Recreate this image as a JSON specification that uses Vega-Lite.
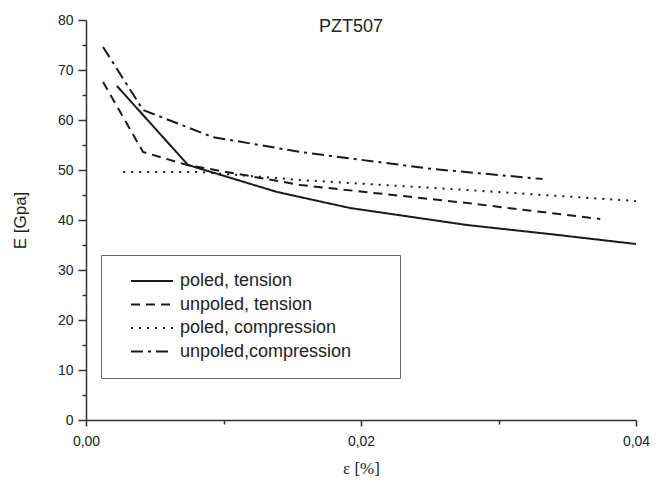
{
  "$schema": "https://vega.github.io/schema/vega-lite/v6.json",
  "width": 550,
  "height": 400,
  "autosize": {"type": "none"},
  "padding": {"left": 86, "top": 20, "right": 25, "bottom": 62},
  "background": "white",
  "title": {"text": "PZT507", "frame": "group", "anchor": "middle", "orient": "top", "offset": -17, "dy": 20, "baseline": "alphabetic", "dx": -10, "fontSize": 18, "fontWeight": "normal", "font": "Liberation Sans", "color": "#222"},
  "config": {"view": {"stroke": null}, "font": "Liberation Sans"},
  "data": {"values": [
    {"series": "poled, tension", "strain": 0.00225, "E": 66.8},
    {"series": "poled, tension", "strain": 0.00742, "E": 51.0},
    {"series": "poled, tension", "strain": 0.0139, "E": 45.6},
    {"series": "poled, tension", "strain": 0.0192, "E": 42.4},
    {"series": "poled, tension", "strain": 0.0277, "E": 39.0},
    {"series": "poled, tension", "strain": 0.0337, "E": 37.2},
    {"series": "poled, tension", "strain": 0.0400, "E": 35.2},
    {"series": "unpoled, tension", "strain": 0.00124, "E": 67.6},
    {"series": "unpoled, tension", "strain": 0.00415, "E": 53.6},
    {"series": "unpoled, tension", "strain": 0.00735, "E": 51.0},
    {"series": "unpoled, tension", "strain": 0.0156, "E": 47.0},
    {"series": "unpoled, tension", "strain": 0.0277, "E": 43.4},
    {"series": "unpoled, tension", "strain": 0.0374, "E": 40.2},
    {"series": "poled, compression", "strain": 0.0027, "E": 49.6},
    {"series": "poled, compression", "strain": 0.0083, "E": 49.6},
    {"series": "poled, compression", "strain": 0.0156, "E": 48.0},
    {"series": "poled, compression", "strain": 0.0277, "E": 46.0},
    {"series": "poled, compression", "strain": 0.0400, "E": 43.8},
    {"series": "unpoled,compression", "strain": 0.00124, "E": 74.6},
    {"series": "unpoled,compression", "strain": 0.00415, "E": 62.0},
    {"series": "unpoled,compression", "strain": 0.0092, "E": 56.6},
    {"series": "unpoled,compression", "strain": 0.0156, "E": 53.6},
    {"series": "unpoled,compression", "strain": 0.0252, "E": 50.2},
    {"series": "unpoled,compression", "strain": 0.0332, "E": 48.2}
  ]},
  "mark": {"type": "line", "strokeWidth": 2, "color": "#1a1a1a", "strokeCap": "butt"},
  "encoding": {
    "x": {
      "field": "strain", "type": "quantitative",
      "scale": {"domain": [0, 0.04], "nice": false, "zero": false},
      "axis": {
        "title": "ε [%]", "titleFont": "Liberation Serif", "titleFontSize": 17, "titleFontWeight": "normal", "titleColor": "#222", "titlePadding": 12,
        "values": [0, 0.01, 0.02, 0.03, 0.04],
        "labelExpr": "round(datum.value*100) % 2 === 0 ? replace(format(datum.value, '.2f'), '.', ',') : ''",
        "tickSize": {"condition": {"test": "round(datum.value*100) % 2 === 0", "value": 6}, "value": 4},
        "grid": false, "domainColor": "#333", "domainWidth": 1.5, "tickColor": "#333", "tickWidth": 1.5,
        "labelFontSize": 14, "labelPadding": 8, "labelColor": "#222", "labelFont": "Liberation Sans", "labelFlush": false, "labelOverlap": false
      }
    },
    "y": {
      "field": "E", "type": "quantitative",
      "scale": {"domain": [0, 80], "nice": false},
      "axis": {
        "title": "E [Gpa]", "titleFont": "Liberation Sans", "titleFontSize": 17, "titleFontWeight": "normal", "titleColor": "#222", "titlePadding": 28,
        "values": [0, 5, 10, 15, 20, 25, 30, 35, 40, 45, 50, 55, 60, 65, 70, 75, 80],
        "labelExpr": "datum.value % 10 === 0 ? datum.label : ''",
        "tickSize": {"condition": {"test": "datum.value % 10 === 0", "value": 8}, "value": 4},
        "grid": false, "domainColor": "#333", "domainWidth": 1.5, "tickColor": "#333", "tickWidth": 1.5,
        "labelFontSize": 14, "labelPadding": 5, "labelColor": "#222", "labelFont": "Liberation Sans", "labelOverlap": false
      }
    },
    "strokeDash": {
      "field": "series", "type": "nominal",
      "scale": {"domain": ["poled, tension", "unpoled, tension", "poled, compression", "unpoled,compression"], "range": [[1, 0], [9, 6], [2, 6], [12, 5, 3, 5]]},
      "legend": {
        "orient": "none", "legendX": 15, "legendY": 235, "title": null, "padding": 17,
        "strokeColor": "#666", "symbolType": "M-10.5,0H10.5", "symbolSize": 16, "symbolStrokeWidth": 2, "symbolStrokeColor": "#1a1a1a",
        "symbolOffset": 25, "labelFontSize": 18, "labelOffset": 19, "rowPadding": 5.5, "labelColor": "#222", "labelFont": "Liberation Sans", "labelLimit": 400,
        "labelExpr": "datum.label + ' \u2800\u2800'"
      }
    },
    "order": {"field": "strain", "type": "quantitative"}
  }
}
